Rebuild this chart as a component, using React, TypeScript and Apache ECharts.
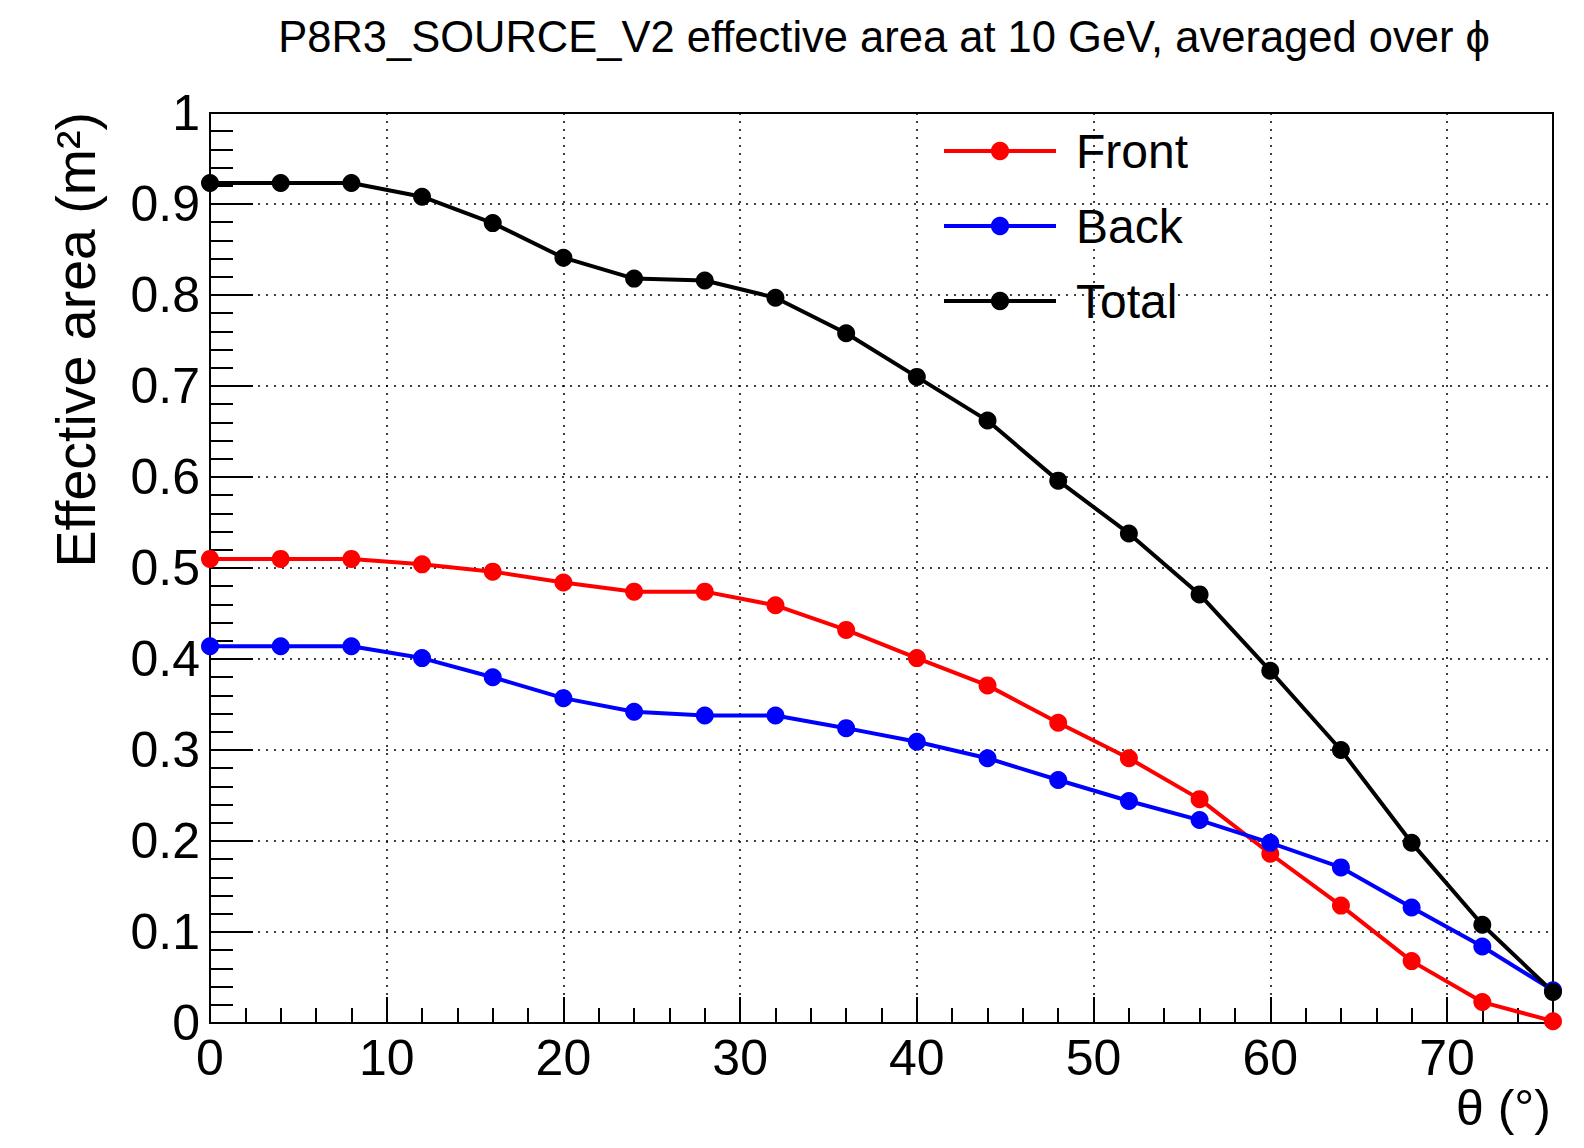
import React, { useEffect, useRef } from "react";
import * as echarts from "echarts";

const TITLE = "P8R3_SOURCE_V2 effective area at 10 GeV, averaged over \u03d5";
const Y_NAME = "Effective area (m\u00b2)";
const X_NAME = "\u03b8 (\u00b0)";

const theta = [0, 4, 8, 12, 16, 20, 24, 28, 32, 36, 40, 44, 48, 52, 56, 60, 64, 68, 72, 76];
const front = [0.510, 0.510, 0.510, 0.504, 0.496, 0.484, 0.474, 0.474, 0.459, 0.432, 0.401, 0.371, 0.330, 0.291, 0.246, 0.186, 0.129, 0.068, 0.023, 0.002];
const back = [0.414, 0.414, 0.414, 0.401, 0.380, 0.357, 0.342, 0.338, 0.338, 0.324, 0.309, 0.291, 0.267, 0.244, 0.223, 0.198, 0.171, 0.127, 0.084, 0.036];
const total = [0.923, 0.923, 0.923, 0.908, 0.879, 0.841, 0.818, 0.816, 0.797, 0.758, 0.710, 0.662, 0.596, 0.538, 0.471, 0.387, 0.300, 0.198, 0.108, 0.034];

const seriesDefs = [
  { name: "Front", color: "#ff0000", values: front },
  { name: "Back", color: "#0000ff", values: back },
  { name: "Total", color: "#000000", values: total },
];

const FONT = "'Liberation Sans', Arial, Helvetica, sans-serif";

export default function App() {
  const ref = useRef<HTMLDivElement>(null);
  useEffect(() => {
    if (!ref.current) return;
    const chart = echarts.init(ref.current, undefined, { renderer: "svg" });
    const gridStyle = { color: "#000", width: 1.5, type: [2, 6] as any };
    chart.setOption({
      animation: false,
      backgroundColor: "#fff",
      textStyle: { fontFamily: FONT },
      title: {
        text: TITLE,
        left: 879,
        top: 10,
        textAlign: "center",
        textStyle: { fontSize: 43.5, fontWeight: "normal", color: "#000", fontFamily: FONT },
      },
      grid: {
        left: 210,
        right: 31,
        top: 113,
        bottom: 125,
        show: true,
        borderColor: "#000",
        borderWidth: 2,
        backgroundColor: "transparent",
      },
      legend: {
        orient: "vertical",
        left: 937,
        top: 118,
        itemWidth: 112,
        itemHeight: 23,
        itemGap: 19,
        lineStyle: { width: 4 },
        textStyle: { fontSize: 48, lineHeight: 56, color: "#000", fontFamily: FONT, padding: [0, 0, 0, 15] },
        data: seriesDefs.map((s) => s.name),
      },
      xAxis: [
        {
          type: "value",
          min: 0,
          max: 76,
          interval: 10,
          position: "bottom",
          axisLine: { show: true, lineStyle: { color: "#000", width: 2 } },
          axisTick: { show: true, inside: true, length: 26, lineStyle: { color: "#000", width: 2 } },
          axisLabel: { show: true, showMaxLabel: false, fontSize: 50, color: "#000", margin: 10, fontFamily: FONT },
          splitLine: { show: true, lineStyle: gridStyle },
        },
        {
          type: "value",
          min: 0,
          max: 76,
          interval: 2,
          position: "bottom",
          offset: 0,
          axisLine: { show: false },
          axisTick: { show: true, inside: true, length: 15, lineStyle: { color: "#000", width: 2 } },
          axisLabel: { show: false },
          splitLine: { show: false },
        },
      ],
      yAxis: {
        type: "value",
        min: 0,
        max: 1,
        interval: 0.1,
        axisLine: { show: true, lineStyle: { color: "#000", width: 2 } },
        axisTick: { show: true, inside: true, length: 43, lineStyle: { color: "#000", width: 2 } },
        minorTick: { show: true, splitNumber: 5, length: 23, lineStyle: { color: "#000", width: 2 } },
        axisLabel: {
          fontSize: 50,
          color: "#000",
          margin: 10,
          fontFamily: FONT,
          formatter: (v: number) => (Math.abs(v) < 1e-9 ? "0" : Math.abs(v - 1) < 1e-9 ? "1" : v.toFixed(1)),
        },
        splitLine: { show: true, lineStyle: gridStyle },
      },
      series: seriesDefs.map((s) => ({
        name: s.name,
        type: "line",
        xAxisIndex: 0,
        data: theta.map((t, i) => [t, s.values[i]]),
        symbol: "circle",
        symbolSize: 18,
        showSymbol: true,
        clip: false,
        itemStyle: { color: s.color },
        lineStyle: { color: s.color, width: 4 },
      })),
      graphic: [
        {
          type: "text",
          x: 76,
          y: 112,
          rotation: Math.PI / 2,
          style: {
            text: Y_NAME,
            fontSize: 55.5,
            fontFamily: FONT,
            fill: "#000",
            align: "right",
            verticalAlign: "middle",
          },
        },
        {
          type: "text",
          x: 1551,
          y: 1108,
          style: {
            text: X_NAME,
            fontSize: 50,
            fontFamily: FONT,
            fill: "#000",
            align: "right",
            verticalAlign: "middle",
          },
        },
      ],
    });
    return () => chart.dispose();
  }, []);
  return <div ref={ref} style={{ position: "absolute", left: 0, top: 0, width: 1584, height: 1148 }} />;
}
